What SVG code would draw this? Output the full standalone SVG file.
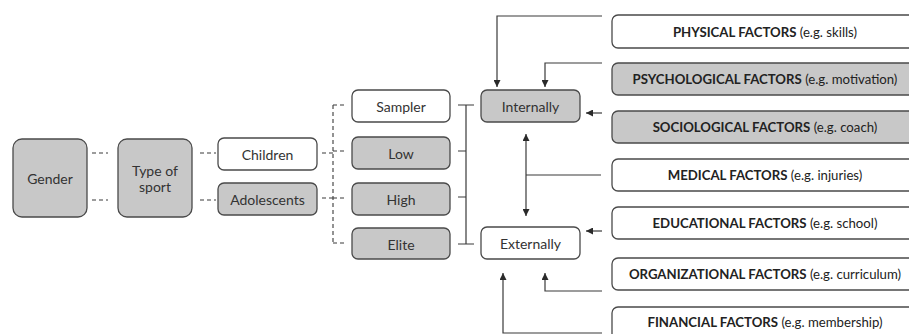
<svg xmlns="http://www.w3.org/2000/svg" width="909" height="334" viewBox="0 0 909 334">
<defs>
<style>
.b{stroke:#4a4a4a;stroke-width:1.3;fill:#fff}
.g{fill:#c8c8c8}
.t{font-family:Lato,"Open Sans","Liberation Sans",sans-serif;font-size:14px;fill:#333;text-anchor:middle;dominant-baseline:central}
.f{font-family:Lato,"Open Sans","Liberation Sans",sans-serif;font-size:13.2px;fill:#222;text-anchor:middle;dominant-baseline:central}
.f tspan.k{font-weight:bold}
.c{stroke:#3a3a3a;stroke-width:1.2;fill:none}
.d{stroke:#3a3a3a;stroke-width:1.1;fill:none;stroke-dasharray:4 3}
</style>
<marker id="ah" viewBox="0 0 10 10" refX="10" refY="5" markerWidth="7" markerHeight="7" orient="auto-start-reverse" markerUnits="userSpaceOnUse">
<path d="M0,0 L10,5 L0,10 z" fill="#2a2a2a"/>
</marker>
</defs>
<g id="connectors">
<path class="d" d="M92,153 H108 M92,200 H108 M200,153 H216 M200,200 H216"/>
<path class="d" d="M322,153 H333 M322,198 H333 M333,105 V243 M333,105 H346 M333,151 H346 M333,198 H346 M333,243 H346"/>
<path class="c" d="M458,105 H474 M458,244 H474 M466,105 V244 M458,151 H466 M458,197 H466"/>
<path class="c" d="M526,134 V216" marker-start="url(#ah)" marker-end="url(#ah)"/>
<path class="c" d="M526,175 H601"/>
<path class="c" d="M602,16 H497 V87" marker-end="url(#ah)"/>
<path class="c" d="M602,63 H545 V87" marker-end="url(#ah)"/>
<path class="c" d="M602,113 H586" marker-end="url(#ah)"/>
<path class="c" d="M602,231 H586" marker-end="url(#ah)"/>
<path class="c" d="M602,291 H545 V273" marker-end="url(#ah)"/>
<path class="c" d="M602,333 H503 V273" marker-end="url(#ah)"/>
</g>
<g id="gender"><rect class="b g" x="13" y="139" width="74" height="78" rx="9"/><text class="t" x="50" y="178">Gender</text></g>
<g id="type-of-sport"><rect class="b g" x="118" y="139" width="74" height="78" rx="9"/><text class="t" x="155" y="170">Type of</text><text class="t" x="155" y="186">sport</text></g>
<g id="children"><rect class="b" x="218" y="138" width="99" height="32" rx="6"/><text class="t" x="267.5" y="154">Children</text></g>
<g id="adolescents"><rect class="b g" x="218" y="183" width="99" height="32" rx="6"/><text class="t" x="267.5" y="199">Adolescents</text></g>
<g id="sampler"><rect class="b" x="352" y="90" width="98" height="32" rx="6"/><text class="t" x="401" y="106">Sampler</text></g>
<g id="low"><rect class="b g" x="352" y="137" width="98" height="32" rx="6"/><text class="t" x="401" y="153">Low</text></g>
<g id="high"><rect class="b g" x="352" y="183" width="98" height="32" rx="6"/><text class="t" x="401" y="199">High</text></g>
<g id="elite"><rect class="b g" x="352" y="228" width="98" height="31" rx="6"/><text class="t" x="401" y="244">Elite</text></g>
<g id="internally"><rect class="b g" x="481" y="90" width="99" height="32" rx="6"/><text class="t" x="530.5" y="106">Internally</text></g>
<g id="externally"><rect class="b" x="481" y="227" width="99" height="32" rx="6"/><text class="t" x="530.5" y="243">Externally</text></g>
<g id="physical"><rect class="b" x="612" y="15" width="306" height="33" rx="6"/><text class="f" x="765" y="31.5"><tspan class="k">PHYSICAL FACTORS</tspan> (e.g. skills)</text></g>
<g id="psychological"><rect class="b g" x="612" y="63" width="306" height="32" rx="6"/><text class="f" x="765" y="79"><tspan class="k">PSYCHOLOGICAL FACTORS</tspan> (e.g. motivation)</text></g>
<g id="sociological"><rect class="b g" x="612" y="111" width="306" height="32" rx="6"/><text class="f" x="765" y="127"><tspan class="k">SOCIOLOGICAL FACTORS</tspan> (e.g. coach)</text></g>
<g id="medical"><rect class="b" x="612" y="159" width="306" height="32" rx="6"/><text class="f" x="765" y="175"><tspan class="k">MEDICAL FACTORS</tspan> (e.g. injuries)</text></g>
<g id="educational"><rect class="b" x="612" y="207" width="306" height="32" rx="6"/><text class="f" x="765" y="223"><tspan class="k">EDUCATIONAL FACTORS</tspan> (e.g. school)</text></g>
<g id="organizational"><rect class="b" x="612" y="258" width="306" height="32" rx="6"/><text class="f" x="765" y="274"><tspan class="k">ORGANIZATIONAL FACTORS</tspan> (e.g. curriculum)</text></g>
<g id="financial"><rect class="b" x="612" y="307" width="306" height="33" rx="6"/><text class="f" x="765" y="322"><tspan class="k">FINANCIAL FACTORS</tspan> (e.g. membership)</text></g>
</svg>
